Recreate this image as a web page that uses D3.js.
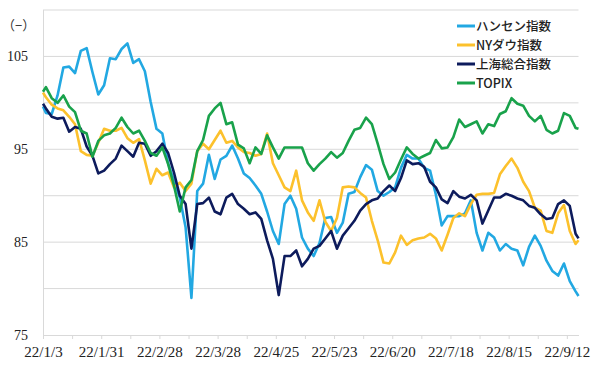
<!DOCTYPE html>
<html><head><meta charset="utf-8">
<script src="https://cdn.jsdelivr.net/npm/d3@7"></script>
<style>body{margin:0;background:#fff}</style>
</head><body><svg id="c" width="600" height="372"></svg>
<script>
// weekday offsets from 2022-01-03
const dayIdx = [0,1,3,5,7,9,11,13,15,17,19,21,23,25,27,29,31,33,35,37,39,41,43,45,47,49,51,53,55,57,59,61,63,65,67,69,71,73,75,77,79,81,83,85,87,89,91,93,95,97,99,101,103,105,107,109,111,113,115,117,119,121,123,125,127,129,131,133,135,137,139,141,143,145,147,149,151,153,155,157,159,161,163,165,167,169,171,173,175,177,179,181,183,184];

const hangSeng = [99.6,98.9,98.8,100.8,103.8,103.9,103.2,105.6,105.9,103.3,100.9,101.9,104.8,104.7,105.8,106.4,104.3,104.7,103.4,100.1,97.2,96.7,93.5,91.6,89.8,86.6,79.0,90.5,91.3,94.4,91.8,93.9,94.3,95.4,94.0,92.4,91.9,91.1,90.2,88.3,86.2,84.8,89.1,90.0,88.6,85.5,84.3,83.5,84.9,87.6,87.7,86.0,87.1,90.2,90.4,92.0,93.3,92.8,90.5,90.0,90.4,90.9,93.0,94.4,94.0,94.0,93.0,92.7,90.1,86.8,87.8,87.8,87.8,88.1,89.5,86.0,84.1,86.0,85.5,84.1,84.8,84.3,84.1,82.5,84.5,85.7,84.6,83.0,81.9,81.4,82.7,80.8,79.7,79.2];

const nyDow = [101.1,100.6,99.8,99.4,99.2,98.5,97.7,94.8,94.4,94.3,95.7,97.2,97.0,97.0,97.3,96.2,95.7,96.1,93.8,91.3,92.9,92.2,92.5,90.9,91.4,90.5,91.3,94.8,95.6,95.0,96.0,97.0,95.7,95.9,95.2,94.7,94.6,94.3,94.5,96.7,93.5,92.2,90.9,90.5,92.7,89.5,88.2,87.3,89.5,87.2,86.2,87.6,90.9,91.0,90.9,90.3,89.8,87.3,85.2,82.8,82.7,83.9,85.7,84.7,85.2,85.4,85.5,85.9,85.4,84.1,85.8,87.6,88.1,87.8,89.1,90.1,90.2,90.2,90.3,92.3,93.2,94.0,93.0,91.5,90.5,88.7,88.4,86.2,86.0,88.1,89.0,86.2,84.8,85.2];

const shanghai = [99.9,99.4,98.5,98.3,98.4,96.9,97.4,97.2,95.3,94.3,92.4,92.7,93.4,94.0,95.4,94.8,94.2,95.7,95.6,94.3,94.8,95.6,94.6,92.5,90.0,89.1,84.3,89.1,89.2,89.8,88.3,88.0,89.8,90.2,89.1,88.6,88.0,88.2,87.5,85.2,83.2,79.3,83.5,83.5,84.1,82.4,83.2,84.3,84.6,85.4,86.2,84.3,85.7,86.5,87.3,88.4,89.1,89.5,89.7,90.5,91.1,90.5,91.9,93.8,93.4,93.5,93.1,91.5,90.9,89.6,89.2,90.5,89.9,89.7,90.1,89.5,87.0,88.4,89.8,89.8,90.2,90.0,89.7,89.5,88.9,88.7,88.0,87.5,87.6,89.1,89.5,88.9,85.9,85.4];

const topix = [101.2,101.7,100.5,100.0,100.8,99.6,99.0,97.0,96.7,94.2,95.9,96.5,96.7,97.3,98.4,97.4,96.7,97.0,95.9,94.6,94.3,95.2,93.4,91.1,88.3,90.9,91.7,94.8,96.0,98.6,99.4,100.0,97.7,97.9,95.5,95.1,93.5,95.2,94.5,96.5,95.2,94.0,95.2,95.2,95.2,95.2,93.5,92.7,93.4,94.0,94.7,94.1,94.6,95.9,97.1,97.3,98.4,97.7,95.6,93.4,91.8,92.5,93.9,95.2,94.5,94.0,94.3,94.6,96.0,95.1,95.2,96.3,98.2,97.4,97.7,98.0,96.7,97.7,97.5,98.8,99.1,100.5,99.9,99.7,98.6,98.0,98.6,97.1,96.7,97.0,98.9,98.6,97.3,97.2];

const seriesNames = ["ハンセン指数","NYダウ指数","上海総合指数","TOPIX"];
const seriesColors = ["#22a8e2","#fcc12c","#0d1b5c","#19a24b"];
const xTickIdx = [0,20,40,60,80,100,120,140,160,180];
const xTickLabels = ["22/1/3","22/1/31","22/2/28","22/3/28","22/4/25","22/5/23","22/6/20","22/7/18","22/8/15","22/9/12"];
const yTickValues = [75,85,95,105];
const yGridValues = [80,85,90,95,100,105,110];
const unitLabel = "（−）";

const svg = d3.select("#c");
const x = d3.scaleLinear().domain([0,184]).range([43,578.5]);
const y = d3.scaleLinear().domain([75,110]).range([335,10]);

// grid
svg.append("g").selectAll("line").data(yGridValues).join("line")
  .attr("x1",43).attr("x2",578.5).attr("y1",d=>y(d)).attr("y2",d=>y(d))
  .attr("stroke","#d9d9d9").attr("stroke-width",1);
// left axis line
svg.append("line").attr("x1",43.5).attr("x2",43.5).attr("y1",y(110)).attr("y2",y(75))
  .attr("stroke","#d9d9d9");

// x axis
const xa = svg.append("g").attr("transform",`translate(0,${y(75)})`)
  .call(d3.axisBottom(x).tickValues(d3.range(0,181,10)).tickSize(4).tickSizeOuter(0)
    .tickFormat(d=>{const k=xTickIdx.indexOf(d);return k>=0?xTickLabels[k]:"";}));
xa.select(".domain").attr("stroke","#d9d9d9");
xa.selectAll(".tick line").attr("stroke","#d9d9d9");
xa.selectAll(".tick text").attr("font-family","'Liberation Serif','Times New Roman',serif")
  .attr("font-size",15).attr("fill","#222").attr("dy",0).attr("y",22);

// y axis
const ya = svg.append("g").attr("transform","translate(28,0)")
  .call(d3.axisLeft(y).tickValues(yTickValues).tickSize(0).tickFormat(d3.format("d")));
ya.select(".domain").remove();
ya.selectAll(".tick text").attr("font-family","'Liberation Serif','Times New Roman',serif")
  .attr("font-size",14).attr("fill","#222").attr("x",0);

svg.append("text").attr("x",2).attr("y",30).text(unitLabel)
  .attr("font-family","'Noto Sans CJK JP',sans-serif").attr("font-size",13).attr("fill","#333");

// lines
const all = [hangSeng,nyDow,shanghai,topix];
const line = d3.line().x((d,i)=>x(dayIdx[i])).y(d=>y(d));
all.forEach((s,k)=>{
  svg.append("path").datum(s).attr("d",line).attr("fill","none")
    .attr("stroke",seriesColors[k]).attr("stroke-width",2.6).attr("stroke-linejoin","round");
});

// legend
const lg = svg.append("g");
seriesNames.forEach((n,k)=>{
  const yy = 26 + k*19;
  lg.append("line").attr("x1",457).attr("x2",475).attr("y1",yy).attr("y2",yy)
    .attr("stroke",seriesColors[k]).attr("stroke-width",3);
  lg.append("text").attr("x",476).attr("y",yy+4.5).text(n)
    .attr("font-family","'Noto Sans CJK JP',sans-serif").attr("font-size",12.5)
    .attr("font-weight",500).attr("fill","#222");
});
</script></body></html>
